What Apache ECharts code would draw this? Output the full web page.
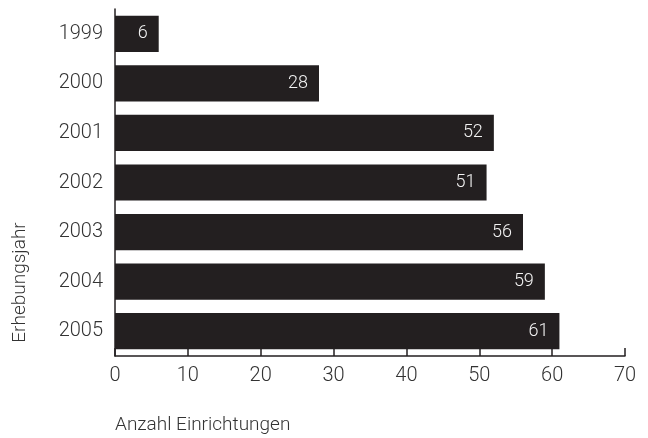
<!DOCTYPE html>
<html>
<head>
<meta charset="utf-8">
<script src="https://cdn.jsdelivr.net/npm/echarts@6/dist/echarts.min.js"></script>
<style>
html,body{margin:0;padding:0;background:#fff;}
#chart{width:648px;height:438px;}
</style>
</head>
<body>
<div id="chart"></div>
<script>
const years = ['1999','2000','2001','2002','2003','2004','2005'];
const counts = [6, 28, 52, 51, 56, 59, 61];
const xTicks = [0, 10, 20, 30, 40, 50, 60, 70];
const xAxisTitle = 'Anzahl Einrichtungen';
const yAxisTitle = 'Erhebungsjahr';

const font = 'Roboto, Liberation Sans, Arial, sans-serif';
const fw = 300;
const chart = echarts.init(document.getElementById('chart'), null, {renderer: 'canvas'});
chart.setOption({
  animation: false,
  backgroundColor: '#ffffff',
  textStyle: {fontFamily: font},
  grid: {left: 115, right: 23, top: 9, bottom: 82, containLabel: false},
  xAxis: {
    type: 'value',
    min: xTicks[0],
    max: xTicks[xTicks.length - 1],
    interval: 10,
    splitLine: {show: false},
    axisLine: {show: true, lineStyle: {color: '#231f20', width: 1.5}},
    axisTick: {show: true, inside: true, length: 8, lineStyle: {color: '#231f20', width: 1.5}},
    axisLabel: {fontSize: 20, color: '#333333', margin: 10, fontFamily: font, fontWeight: fw},
    name: xAxisTitle,
    nameLocation: 'start',
    nameGap: 0,
    nameTextStyle: {fontSize: 19, color: '#333333', align: 'left', verticalAlign: 'top', padding: [60, 0, 0, 0], fontFamily: font, fontWeight: fw}
  },
  yAxis: {
    type: 'category',
    data: years,
    inverse: true,
    axisLine: {show: true, lineStyle: {color: '#231f20', width: 1.5}},
    axisTick: {show: false},
    axisLabel: {fontSize: 20, color: '#333333', margin: 12, fontFamily: font, fontWeight: fw},
    name: yAxisTitle,
    nameLocation: 'middle',
    nameRotate: 90,
    nameGap: 85,
    nameTextStyle: {fontSize: 19, color: '#333333', padding: [0, 200, 0, 0], fontFamily: font, fontWeight: fw}
  },
  series: [{
    type: 'bar',
    data: counts,
    barCategoryGap: '27%',
    itemStyle: {color: '#231f20'},
    label: {
      show: true,
      position: 'insideRight',
      distance: 11,
      color: '#f2f2f2',
      fontSize: 18,
      fontFamily: font,
      fontWeight: fw
    }
  }]
});
</script>
</body>
</html>
